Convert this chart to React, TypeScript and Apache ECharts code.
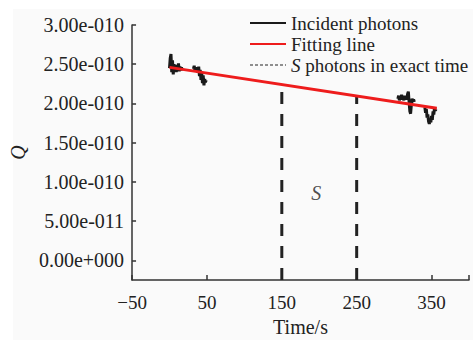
import React, { useEffect, useRef } from "react";
import * as echarts from "echarts";

// Q values are in units of 1e-10
const xLabelTicks = [-50, 50, 150, 250, 350];
const xTickMarks = [-50, 50, 150, 250, 350, 400];
const yTicks = [0, 0.5, 1.0, 1.5, 2.0, 2.5, 3.0];

const incT1 = [0, 1, 2, 3, 4, 5, 6, 7, 8, 9, 10, 11, 12, 13, 14, 15, 16, 17, 18];
const incQ1 = [2.45, 2.58, 2.63, 2.4, 2.55, 2.37, 2.5, 2.42, 2.47, 2.4, 2.49, 2.44, 2.51, 2.41, 2.47, 2.42, 2.46, 2.43, 2.45];
const incT2 = [32, 33, 34, 35, 36, 37, 38, 39, 40, 41, 42, 43, 44, 45, 46, 47, 48, 49];
const incQ2 = [2.44, 2.48, 2.41, 2.46, 2.42, 2.45, 2.39, 2.47, 2.35, 2.43, 2.3, 2.4, 2.26, 2.36, 2.23, 2.31, 2.27, 2.3];
const incT3 = [305, 306, 307, 308, 309, 310, 311, 312, 313, 314, 315, 316, 317, 318, 319, 320, 321, 322, 323, 324, 325, 326, 327];
const incQ3 = [2.06, 2.1, 2.04, 2.09, 2.05, 2.11, 2.06, 2.08, 2.04, 2.1, 2.06, 2.09, 2.05, 2.12, 2.15, 2.02, 1.9, 1.87, 1.98, 2.06, 2.03, 2.05, 2.02];
const incT4 = [341, 342, 343, 344, 345, 346, 347, 348, 349, 350, 351, 352, 353, 354, 355, 356];
const incQ4 = [1.95, 1.88, 1.93, 1.82, 1.86, 1.77, 1.74, 1.8, 1.76, 1.84, 1.79, 1.9, 1.86, 1.95, 1.91, 1.93];

const fitT = [0, 357];
const fitQ = [2.46, 1.94];

const sTimes = [150, 250];
const sTops = [2.24, 2.1];
const sLabelPos = [196, 0.86];

const yMin = -0.25;
const yMax = 3.0;
const xMin = -50;
const xMax = 400;

const SERIF = "Liberation Serif";

function fmtSci(v: number): string {
  const val = v * 1e-10;
  if (Math.abs(val) < 1e-25) return "0.00e+000";
  let exp = Math.floor(Math.log10(Math.abs(val)));
  let mant = val / Math.pow(10, exp);
  if (Math.abs(mant) >= 9.995) {
    exp += 1;
    mant = val / Math.pow(10, exp);
  }
  const sign = exp < 0 ? "-" : "+";
  const e = String(Math.abs(exp)).padStart(3, "0");
  return mant.toFixed(2) + "e" + sign + e;
}

function zip(t: number[], q: number[]) {
  return t.map((x, i) => [x, q[i]]);
}

export default function App() {
  const ref = useRef<HTMLDivElement>(null);
  useEffect(() => {
    document.body.style.margin = "0";
    if (!ref.current) return;
    const chart = echarts.init(ref.current, null, { renderer: "svg" });
    const incStyle = { color: "#1a1a1a", width: 3 };
    const incSeries = [
      [incT1, incQ1],
      [incT2, incQ2],
      [incT3, incQ3],
      [incT4, incQ4],
    ].map(([t, q]) => ({
      type: "line",
      name: "Incident photons",
      data: zip(t as number[], q as number[]),
      showSymbol: false,
      symbol: "none",
      lineStyle: incStyle,
      itemStyle: { color: "#1a1a1a" },
      z: 2,
    }));
    const sSeries = sTimes.map((t, i) => ({
      type: "line",
      name: "S photons in exact time",
      data: [
        [t, yMin],
        [t, sTops[i]],
      ],
      symbol: "none",
      lineStyle: { color: "#222", width: 3, type: [12, 10] },
      itemStyle: { color: "#222" },
      z: 1,
    }));
    chart.setOption({
      animation: false,
      backgroundColor: "#ffffff",
      graphic: [
        {
          type: "rect",
          shape: { x: 13, y: 9, width: 460, height: 331 },
          style: { fill: "#fafafa" },
          z: -10,
          silent: true,
        },
      ],
      grid: { left: 131, right: 4, top: 25, bottom: 54, containLabel: false },
      legend: {
        orient: "vertical",
        left: 244,
        top: 8,
        itemWidth: 36,
        itemHeight: 14,
        itemGap: 1,
        itemStyle: { opacity: 0 },
        textStyle: {
          fontFamily: SERIF,
          fontSize: 19,
          color: "#222",
          lineHeight: 20,
          rich: {
            it: { fontFamily: SERIF, fontSize: 19, fontStyle: "italic", color: "#222" },
            n: { fontFamily: SERIF, fontSize: 19, color: "#222" },
          },
        },
        formatter: (name: string) =>
          name === "S photons in exact time" ? "{it|S}{n| photons in exact time}" : name,
        data: [
          { name: "Incident photons" },
          { name: "Fitting line" },
          {
            name: "S photons in exact time",
            lineStyle: { type: [3, 2], width: 1, color: "#222" },
          },
        ],
      },
      xAxis: {
        type: "value",
        min: xMin,
        max: xMax,
        name: "Time/s",
        nameLocation: "middle",
        nameGap: 33,
        nameTextStyle: { fontFamily: SERIF, fontSize: 20, color: "#222" },
        axisLine: { onZero: false, lineStyle: { color: "#333", width: 1.5 } },
        axisTick: {
          inside: true,
          length: 5,
          customValues: xTickMarks,
          lineStyle: { color: "#333", width: 1.5 },
        },
        axisLabel: {
          customValues: xLabelTicks,
          margin: 13,
          fontFamily: SERIF,
          fontSize: 19,
          color: "#222",
          formatter: (v: number) => (v < 0 ? "\u2212" + Math.abs(v) : String(v)),
        },
        splitLine: { show: false },
      },
      yAxis: {
        type: "value",
        min: yMin,
        max: yMax,
        name: "Q",
        nameLocation: "middle",
        nameGap: 100,
        nameTextStyle: { fontFamily: SERIF, fontSize: 20, fontStyle: "italic", color: "#222" },
        axisLine: { onZero: false, lineStyle: { color: "#333", width: 1.5 } },
        axisTick: {
          inside: true,
          length: 4,
          customValues: yTicks,
          lineStyle: { color: "#333", width: 1.5 },
        },
        axisLabel: {
          customValues: yTicks,
          margin: 8,
          fontFamily: SERIF,
          fontSize: 20,
          color: "#222",
          formatter: (v: number) => fmtSci(v),
        },
        splitLine: { show: false },
      },
      series: [
        ...incSeries,
        ...sSeries,
        {
          type: "line",
          name: "Fitting line",
          data: zip(fitT, fitQ),
          symbol: "none",
          lineStyle: { color: "#ee1c1c", width: 3 },
          itemStyle: { color: "#ee1c1c" },
          z: 3,
        },
        {
          type: "scatter",
          name: "label",
          data: [sLabelPos],
          symbolSize: 0,
          silent: true,
          label: {
            show: true,
            position: "inside",
            formatter: "S",
            fontFamily: SERIF,
            fontSize: 20,
            fontStyle: "italic",
            color: "#222",
          },
        },
      ],
    });
    return () => chart.dispose();
  }, []);
  return <div ref={ref} style={{ width: 473, height: 342 }} />;
}
